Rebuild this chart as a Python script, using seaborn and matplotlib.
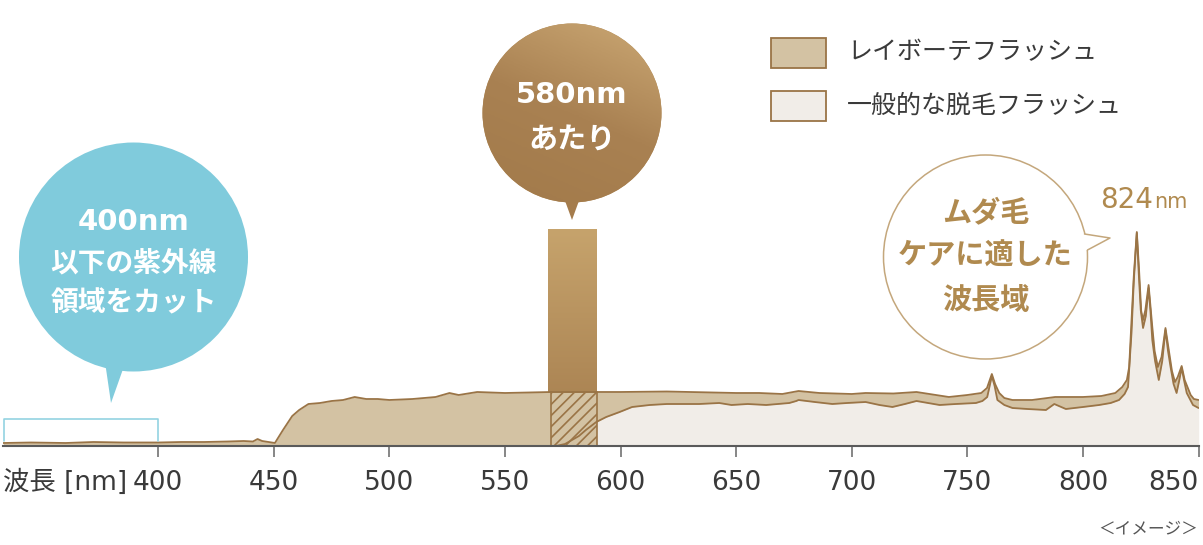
import numpy as np
import matplotlib
matplotlib.use('Agg')
import matplotlib.pyplot as plt
import seaborn as sns
from matplotlib.patches import Circle, Polygon, Rectangle
from matplotlib.colors import LinearSegmentedColormap

# --------------------- DATA --------------------- #
# wavelength [nm] and relative intensity (arbitrary units)

raybeaute_nm = [333, 345, 360, 372, 385, 400, 410, 420, 430, 437, 441, 443, 445, 450.5, 454, 458, 461,
                465, 470, 475, 480, 485, 490, 495, 500, 510, 520, 526, 530, 538, 550, 560, 570, 590,
                600, 620, 640, 650, 660, 670, 677, 686, 700, 706, 718, 728, 742, 750, 756, 758.5,
                760.6, 762, 763.8, 766, 769.5, 778, 788, 800, 808, 814, 817, 819, 820, 821, 822,
                823.3, 824.3, 825.2, 826, 827, 828.4, 829.2, 830, 831, 832.4, 834, 835.7, 837, 838.5,
                839.8, 841, 842.7, 844, 846.6, 848, 850]
raybeaute_val = [3, 3.5, 3, 4, 3.5, 3.5, 4, 4, 4.5, 5, 4.5, 7, 5, 3, 16, 30, 36,
                 42, 43, 45, 46, 49, 47, 47, 46, 47, 49, 53, 51, 54, 53, 53.5, 54, 54,
                 54, 54.5, 53.5, 53, 53, 52, 55, 53, 52, 53, 52.5, 54, 49, 51, 53, 58,
                 72, 62, 53, 48, 46, 46, 49, 49, 50, 53, 59, 66, 79, 125, 170,
                 214, 175, 135, 126, 136, 161, 140, 119, 95, 79, 89, 118, 98, 75,
                 64, 69, 80, 66, 51, 47, 46]

general_nm = [333, 572, 576, 579, 582, 585, 589.5, 593.8, 599.6, 605, 612.6, 620, 634, 642.7, 648,
              655, 663, 673, 676, 677, 684, 691.6, 698, 706, 712, 717.6, 723, 728, 733, 738, 745,
              753.7, 756.5, 758.6, 760.6, 761.8, 763, 766, 769.5, 776, 784, 787.6, 792.6, 800, 807,
              812, 815.6, 818, 819.5, 821, 822, 823.3, 824.2, 825, 826, 827.2, 828.4, 829.2, 830,
              831.2, 832.8, 834.3, 835.7, 836.8, 837.9, 839.2, 840.5, 841.6, 842.7, 843.8, 844.9,
              847.6, 850]
general_val = [0, 0, 2, 6, 10, 16, 24, 29, 34, 39, 41, 42, 42, 43, 41,
               42, 41, 43, 45, 46, 44, 42, 43, 44, 41, 39, 42, 45, 43, 41, 42,
               43, 45, 49, 70, 60, 46, 41, 38, 37, 36, 42, 37, 39, 41,
               43, 46, 52, 59, 113, 165, 213, 170, 136, 118, 130, 158, 135, 106,
               85, 66, 85, 116, 95, 79, 62, 53, 65, 78, 65, 53,
               41, 38]

series_labels = ['レイボーテフラッシュ', '一般的な脱毛フラッシュ']
x_ticks = [400, 450, 500, 550, 600, 650, 700, 750, 800, 850]

uv_cut_nm = 400          # bracket end
highlight_nm = 579       # 580nm marker bar
highlight_width = 21
highlight_height = 217
hatch_range = (570, 590)

# --------------------- STYLE --------------------- #
sns.set_theme(style='white')
plt.rcParams['font.family'] = ['DejaVu Sans', 'Noto Sans CJK JP']
plt.rcParams['hatch.linewidth'] = 1.2

LINE = '#9a7446'
TAN = '#d3c2a3'
PALE = '#f1ede8'
GOLD_TXT = '#b08a4f'
BLUE = '#80cbdc'
TEXT = '#3a3a3a'

fig = plt.figure(figsize=(12.03, 5.45), dpi=100)
ax = fig.add_axes([3 / 1203, 99 / 545, 1196 / 1203, 446 / 545])

# marker bar with vertical gradient
bar = ax.bar(highlight_nm, highlight_height, width=highlight_width, color='#b08a57', zorder=1)[0]
grad = np.linspace(1, 0, 100).reshape(-1, 1) * np.ones((1, 10))
bar_cmap = LinearSegmentedColormap.from_list('bar', ['#a47c4d', '#c6a36c'])
im = ax.imshow(grad, cmap=bar_cmap, aspect='auto', origin='upper', zorder=1.2,
               extent=(highlight_nm - highlight_width / 2, highlight_nm + highlight_width / 2,
                       0, highlight_height))
im.set_clip_path(bar)

# spectra
ax.fill_between(raybeaute_nm, raybeaute_val, 0, color=TAN, lw=0, zorder=2)
ax.fill_between(general_nm, general_val, 0, color=PALE, lw=0, zorder=2.5)

rb = np.array(raybeaute_nm)
mask = (rb >= hatch_range[0]) & (rb <= hatch_range[1])
ax.fill_between(rb[mask], np.array(raybeaute_val)[mask], 0, facecolor=TAN, edgecolor=LINE,
                hatch='///', lw=1.2, zorder=3)

sns.lineplot(x=general_nm, y=general_val, ax=ax, color=LINE, lw=1.3, zorder=4)
sns.lineplot(x=raybeaute_nm, y=raybeaute_val, ax=ax, color=LINE, lw=1.3, zorder=4)

# UV bracket
ax.plot([raybeaute_nm[0] + 0.3, raybeaute_nm[0] + 0.3, uv_cut_nm, uv_cut_nm], [5, 27, 27, 5],
        color='#93d3e1', lw=1.2, zorder=4)

ax.set_xlim(332.9, 850.2)
ax.set_ylim(0, 446)
ax.set_xticks(x_ticks)
ax.set_xticklabels([str(t) for t in x_ticks])
ax.get_xticklabels()[-1].set_horizontalalignment('right')
ax.set_yticks([])
ax.set_xlabel('')
ax.set_ylabel('')
for s in ['left', 'top', 'right']:
    ax.spines[s].set_visible(False)
ax.spines['bottom'].set_color('#5a5a5a')
ax.spines['bottom'].set_linewidth(1.5)
ax.spines['bottom'].set_zorder(6)
ax.tick_params(axis='x', bottom=True, length=8, width=1.1, color='#666666',
               labelsize=19, labelcolor=TEXT, pad=9)
ax.patch.set_alpha(0)

fig.text(3 / 1203, 1 - 483 / 545, '波長 [nm]', ha='left', va='center', fontsize=19, color=TEXT)
fig.text(1198 / 1203, 1 - 528 / 545, '＜イメージ＞', ha='right', va='center', fontsize=12, color='#555555')

# --------------------- OVERLAY: BUBBLES & LEGEND --------------------- #
ov = fig.add_axes([0, 0, 1, 1], zorder=10)
ov.set_xlim(0, 1203)
ov.set_ylim(545, 0)
ov.axis('off')
ov.patch.set_alpha(0)

# blue bubble
ov.add_patch(Circle((133.5, 257), 114.5, color=BLUE, lw=0))
ov.add_patch(Polygon([(104, 355), (128, 355), (111, 403)], color=BLUE, lw=0))
ov.text(133.5, 222, '400nm', ha='center', va='center', fontsize=21, color='white', weight='bold')
ov.text(133.5, 263, '以下の紫外線', ha='center', va='center', fontsize=20, color='white', weight='bold')
ov.text(133.5, 303, '領域をカット', ha='center', va='center', fontsize=20, color='white', weight='bold')

# gold bubble with diagonal gradient
gold_c = Circle((572, 113), 89.5, color='#b58f5c', lw=0)
ov.add_patch(gold_c)
yy, xx = np.mgrid[0:1:100j, 0:1:100j]
g2 = (0.6 * xx + 1.4 * (1 - yy)) / 2
gold_cmap = LinearSegmentedColormap.from_list('gold', ['#a27a4a', '#a98152', '#cba874'])
im2 = ov.imshow(g2, cmap=gold_cmap, aspect='auto', origin='upper', zorder=2,
                extent=(482, 662, 203, 23))
im2.set_clip_path(gold_c)
ov.add_patch(Polygon([(564, 198), (580, 198), (572, 220)], color='#a57c4c', lw=0))
ov.text(572, 95, '580nm', ha='center', va='center', fontsize=21, color='white', weight='bold', zorder=3)
ov.text(572, 141, 'あたり', ha='center', va='center', fontsize=21, color='white', weight='bold', zorder=3)

# white bubble
ov.add_patch(Circle((985.5, 257), 102, facecolor='white', edgecolor='#c4a77c', lw=1.1))
ov.add_patch(Polygon([(1070, 232), (1084, 234), (1110, 238), (1087.5, 250), (1070, 252)],
                     facecolor='white', edgecolor='none'))
ov.plot([1084.5, 1110, 1087.5], [234, 238, 250], color='#c4a77c', lw=1.1)
ov.text(985.5, 213, 'ムダ毛', ha='center', va='center', fontsize=21, color=GOLD_TXT, weight='bold')
ov.text(985.5, 257, 'ケアに適した', ha='center', va='center', fontsize=21, color=GOLD_TXT, weight='bold')
ov.text(985.5, 301, '波長域', ha='center', va='center', fontsize=21, color=GOLD_TXT, weight='bold')

ov.text(1153, 200, '824', ha='right', va='center', fontsize=20, color=GOLD_TXT)
ov.text(1154, 202, 'nm', ha='left', va='center', fontsize=15, color=GOLD_TXT)

# legend
for i, (lab, fc) in enumerate(zip(series_labels, [TAN, PALE])):
    y0 = 37.5 + i * 53.3
    ov.add_patch(Rectangle((771, y0), 55, 30, facecolor=fc, edgecolor=LINE, lw=1.3))
    ov.text(847, y0 + 15, lab, ha='left', va='center', fontsize=18, color=TEXT)

fig.savefig('out.png', dpi=100)
